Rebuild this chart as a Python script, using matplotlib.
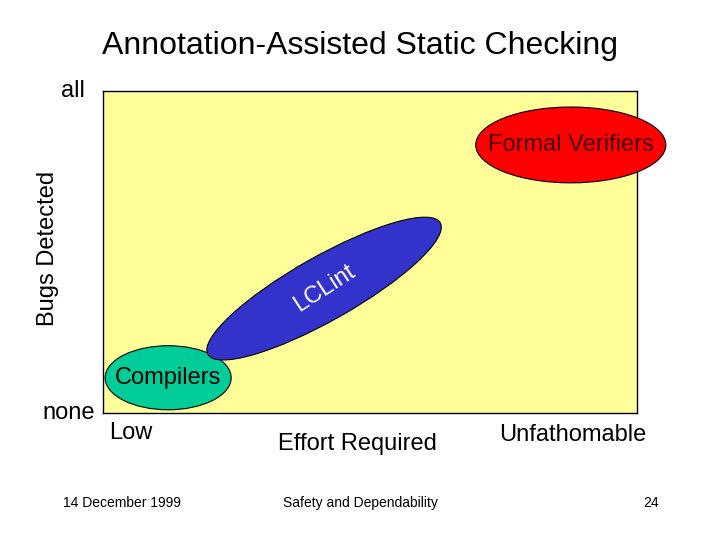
import matplotlib
matplotlib.use("Agg")
import matplotlib.pyplot as plt
from matplotlib.patches import Ellipse

plt.rcParams['font.family'] = ['Liberation Sans', 'DejaVu Sans']

# Data (effort on x, bugs detected on y; box spans 0..100 by 0..60.3 in equal units)
tools = ["Compilers", "LCLint", "Formal Verifiers"]
effort = [12.2, 41.4, 87.6]
bugs = [6.6, 23.3, 50.2]
spread_effort = [23.6, 50.0, 35.6]
spread_bugs = [12.0, 12.0, 14.2]
angles = [0, 29.5, 0]
colors = ["#00CC99", "#3333CC", "#FF0000"]
text_colors = ["black", "white", "#400000"]
text_rot = [0, 33, 0]

title = "Annotation-Assisted Static Checking"
y_ticks = ["none", "all"]
x_ticks = ["Low", "Unfathomable"]
footer = ["14 December 1999", "Safety and Dependability", "24"]

W, H = 720, 540
fig = plt.figure(figsize=(7.2, 5.4), dpi=100)
fig.patch.set_facecolor("white")

L, R, T, B = 103, 637, 91, 413
ax = fig.add_axes([L / W, 1 - B / H, (R - L) / W, (B - T) / H])
ax.set_xlim(0, 100)
ax.set_ylim(0, 100 * (B - T) / (R - L))
ax.set_facecolor("#FFFF99")
for s in ax.spines.values():
    s.set_linewidth(1.0)
    s.set_color("black")
ax.set_xticks([])
ax.set_yticks([])

for i, name in enumerate(tools):
    e = Ellipse((effort[i], bugs[i]), spread_effort[i], spread_bugs[i], angle=angles[i],
                facecolor=colors[i], edgecolor="black", linewidth=0.8, clip_on=False, zorder=3)
    ax.add_patch(e)
    ax.text(effort[i], bugs[i], name, ha="center", va="center", fontsize=17,
            color=text_colors[i], rotation=text_rot[i], rotation_mode="anchor", zorder=5, clip_on=False)

def ftext(x, y, s, **kw):
    fig.text(x / W, 1 - y / H, s, **kw)

ftext(360, 46, title, ha="center", va="center", fontsize=23)
ftext(73, 91, y_ticks[1], ha="center", va="center", fontsize=17)
ftext(69, 413, y_ticks[0], ha="center", va="center", fontsize=17)
ftext(48, 248, "Bugs Detected", ha="center", va="center", fontsize=17, rotation=90)
ftext(131, 433, x_ticks[0], ha="center", va="center", fontsize=17)
ftext(357, 444, "Effort Required", ha="center", va="center", fontsize=17)
ftext(573, 435, x_ticks[1], ha="center", va="center", fontsize=17)
ftext(122, 503, footer[0], ha="center", va="center", fontsize=10)
ftext(360, 503, footer[1], ha="center", va="center", fontsize=10)
ftext(651, 503, footer[2], ha="center", va="center", fontsize=10)

fig.savefig("out.png", dpi=100)
